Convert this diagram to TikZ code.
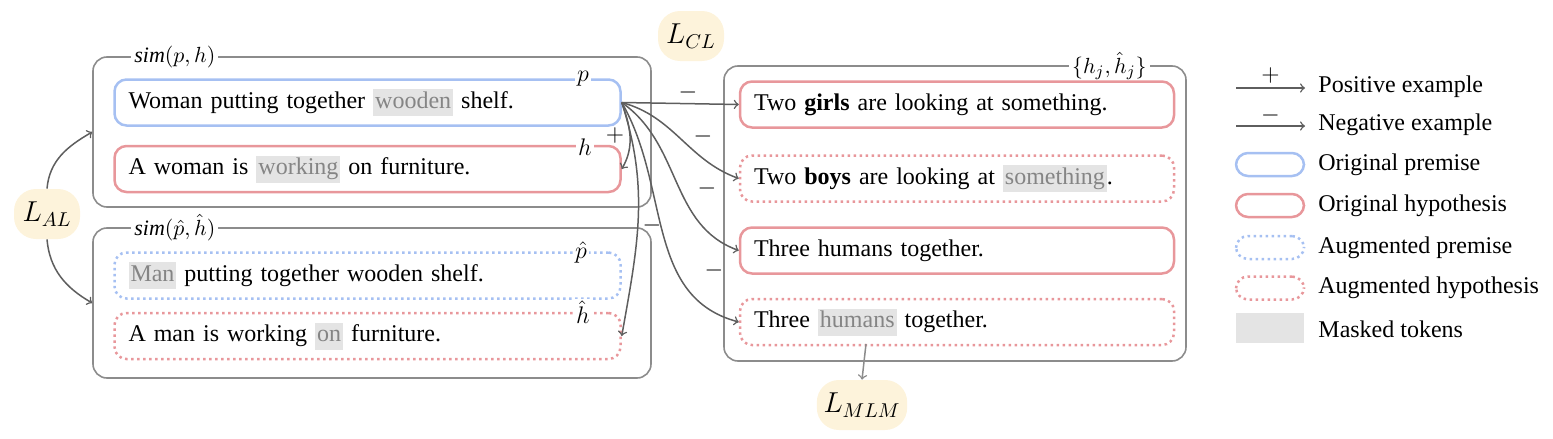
\documentclass[tikz,border=0pt]{standalone}
\usepackage{fontspec}
\setmainfont{Liberation Serif}
\usepackage{amsmath}

\definecolor{premblue}{HTML}{A6C0F2}
\definecolor{hypored}{HTML}{E8979B}
\definecolor{boxgray}{HTML}{8C8C8C}
\definecolor{arrowgray}{HTML}{5E5E5E}
\definecolor{maskbg}{HTML}{E4E4E4}
\definecolor{masktxt}{HTML}{858585}
\definecolor{lossbg}{HTML}{FDF3DB}

\newcommand{\masktok}[1]{{\setlength{\fboxsep}{1pt}\colorbox{maskbg}{\rule[-2.8pt]{0pt}{11.5pt}\textcolor{masktxt}{#1}}}}

\tikzset{
    sent/.style={rounded corners=6pt, line width=1.25pt, minimum height=23pt, inner xsep=7pt, align=left},
    leftsent/.style={sent, text width=239pt},
    rightsent/.style={sent, text width=203pt},
    prem/.style={draw=premblue},
    hypo/.style={draw=hypored},
    aug/.style={dash pattern=on 1.25pt off 1.75pt},
    augprem/.style={prem, aug},
    aughypo/.style={hypo, aug},
    group/.style={draw=boxgray, line width=0.8pt, rounded corners=7pt},
    grouplabel/.style={fill=white, inner sep=1.5pt, font=\fontsize{11}{13}\selectfont},
    tag/.style={fill=white, inner sep=1pt, font=\fontsize{13}{15}\selectfont},
    loss/.style={fill=lossbg, rounded corners=11pt, minimum width=33pt, minimum height=25pt, font=\Large},
    link/.style={->, draw=arrowgray, line width=0.75pt},
    sign/.style={inner sep=0pt},
    legtext/.style={anchor=west, inner sep=2pt}
}

\begin{document}
\begin{tikzpicture}[x=0.5pt, y=-0.5pt, font=\fontsize{12}{14}\selectfont]
        \useasboundingbox (0,0) rectangle (1553,439);

        % groups
        \node[group, minimum width=279pt, minimum height=75pt] (origgrp) at (372,132) {};
        \node[group, minimum width=279pt, minimum height=75pt] (auggrp) at (372,303) {};
        \node[group, minimum width=231pt, minimum height=147.5pt] (hypgrp) at (955,213.5) {};
        \node[grouplabel, anchor=west] (simorig) at (131,57) {$\mathit{sim}(p,h)$};
        \node[grouplabel, anchor=west] (simaug) at (131,228) {$\mathit{sim}(\hat{p},\hat{h})$};
        \node[grouplabel, anchor=east] (hypset) at (1150,66) {$\{h_j, \hat{h}_j\}$};

        % sentences on the left
        \node[leftsent, prem] (p) at (367.5,102.5) {Woman putting together \masktok{wooden} shelf.};
        \node[leftsent, hypo] (h) at (367.5,169) {A woman is \masktok{working} on furniture.};
        \node[leftsent, augprem] (ph) at (367.5,275.5) {\masktok{Man} putting together wooden shelf.};
        \node[leftsent, aughypo] (hh) at (367.5,336) {A man is working \masktok{on} furniture.};
        \node[tag] (ptag) at (583,79) {$p$};
        \node[tag] (htag) at (585,147) {$h$};
        \node[tag] (phtag) at (581,252) {$\hat{p}$};
        \node[tag] (hhtag) at (583,312) {$\hat{h}$};

        % sentences on the right
        \node[rightsent, hypo] (g1) at (957,104.5) {Two \textbf{girls} are looking at something.};
        \node[rightsent, aughypo] (g2) at (957,178.5) {Two \textbf{boys} are looking at \masktok{something}.};
        \node[rightsent, hypo] (g3) at (957,250.5) {Three humans together.};
        \node[rightsent, aughypo] (g4) at (957,322) {Three \masktok{humans} together.};
        \coordinate (humtok) at (866,344);

        % losses
        \node[loss] (lal) at (47,214) {$L_{AL}$};
        \node[loss] (lcl) at (691,36) {$L_{CL}$};
        \node[loss] (lmlm) at (862,405) {$L_{MLM}$};

        % examples
        \draw[link] (p.east) -- (g1.west);
        \draw[link] (p.east) to[out=-15, in=160] (g2.west);
        \draw[link] (p.east) to[out=-35, in=160] (g3.west);
        \draw[link] (p.east) to[out=-60, in=165] (g4.west);
        \draw[link] (p.east) to[out=-70, in=60] (h.east);
        \draw[link] (p.east) to[out=-72, in=80] (hh.east);
        \node[sign] (s1) at (688,92) {$-$};
        \node[sign] (s2) at (703,136) {$-$};
        \node[sign] (s3) at (707,188) {$-$};
        \node[sign] (s4) at (714,270) {$-$};
        \node[sign] (s5) at (652,225) {$-$};
        \node[sign] (s6) at (615,135) {$+$};
        \draw[link] (lal.north) to[out=85, in=210] (origgrp.west);
        \draw[link] (lal.south) to[out=-85, in=150] (auggrp.west);
        \draw[link, draw=boxgray] (humtok) -- (lmlm.north);

        % legend
        \coordinate (pos0) at (1236,88);
        \coordinate (pos1) at (1305,88);
        \coordinate (neg0) at (1236,126);
        \coordinate (neg1) at (1305,126);
        \draw[link] (pos0) -- node[above, sign, yshift=2pt] (legplus) {$+$} (pos1);
        \draw[link] (neg0) -- node[above, sign, yshift=1pt] (legminus) {$-$} (neg1);
        \node[legtext] (legpos) at (1314,87) {Positive example};
        \node[legtext] (legneg) at (1314,125) {Negative example};
        \foreach \y/\st/\name/\txt in {164.5/prem/lop/Original premise, 205.5/hypo/loh/Original hypothesis,
                247.5/augprem/lap/Augmented premise, 288/aughypo/lah/Augmented hypothesis} {
            \node[sent, \st, minimum width=34pt, minimum height=11.5pt, inner sep=0pt] (\name) at (1270,\y) {};
            \node[legtext] (\name txt) at (1314,\y) {\txt};
        }
        \node[fill=maskbg, minimum width=34pt, minimum height=15pt, inner sep=0pt] (lmask) at (1270,328) {};
        \node[legtext] (lmasktxt) at (1314,329) {Masked tokens};
    \end{tikzpicture}
\end{document}
